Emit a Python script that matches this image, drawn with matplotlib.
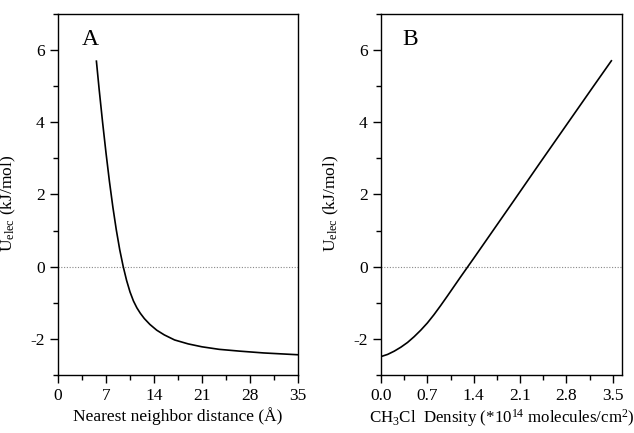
import numpy as np
import matplotlib
matplotlib.use("Agg")
import matplotlib.pyplot as plt
from matplotlib.ticker import MultipleLocator, FormatStrFormatter

plt.rcParams['font.family'] = ['Liberation Serif', 'DejaVu Serif']
plt.rcParams['mathtext.fontset'] = 'custom'
plt.rcParams['mathtext.rm'] = 'Liberation Serif'
plt.rcParams['mathtext.it'] = 'Liberation Serif:italic'
plt.rcParams['axes.unicode_minus'] = False

# panel A: energy vs nearest neighbour distance
dist_a = [5.6, 6.0, 6.5, 7.0, 7.5, 8.0, 8.5, 9.0, 9.5, 10.0, 10.5, 11.0, 11.5, 12.0, 12.6, 13.4,
          14.4, 15.5, 17.0, 19.0, 21.0, 23.5, 26.5, 30.0, 35.0]
u_a = [5.69, 4.91, 4.00, 3.15, 2.36, 1.65, 1.02, 0.47, 0.01, -0.38, -0.70, -0.95, -1.14, -1.29, -1.44, -1.60,
       -1.76, -1.89, -2.03, -2.14, -2.22, -2.29, -2.34, -2.39, -2.44]

# panel B: energy vs CH3Cl density
dens_b = [0.0, 0.1, 0.2, 0.3, 0.4, 0.5, 0.6, 0.7, 0.8, 0.9, 1.0, 1.2, 1.4, 1.7, 2.0, 2.4, 2.8, 3.2, 3.48]
u_b = [-2.49, -2.43, -2.34, -2.23, -2.10, -1.94, -1.76, -1.56, -1.33, -1.08, -0.82, -0.29, 0.23,
       1.02, 1.81, 2.87, 3.92, 4.97, 5.70]

fig = plt.figure(figsize=(6.34, 4.33), dpi=100)
ax_a = fig.add_axes([0.0915, 0.134, 0.3785, 0.834])
ax_b = fig.add_axes([0.601, 0.134, 0.380, 0.834])

for ax in (ax_a, ax_b):
    ax.axhline(0, color='#888888', lw=0.8, ls=(0, (1, 1.5)), zorder=1)
    ax.set_ylim(-3, 7)
    ax.yaxis.set_major_locator(MultipleLocator(2))
    ax.yaxis.set_minor_locator(MultipleLocator(1))
    ax.tick_params(which='both', direction='out', labelsize=12.5, width=1.0)
    ax.tick_params(which='major', length=6)
    ax.tick_params(which='minor', length=3.5)
    for s in ax.spines.values():
        s.set_linewidth(1.0)
    ax.set_ylabel(r'U$_{\rm elec}$ (kJ/mol)', fontsize=12.5)
    ax.yaxis.set_label_coords(-0.165, 0.475)

ax_a.plot(dist_a, u_a, color='black', lw=1.2)
ax_a.set_xlim(0, 35)
ax_a.xaxis.set_major_locator(MultipleLocator(7))
ax_a.xaxis.set_minor_locator(MultipleLocator(3.5))
ax_a.set_xlabel('Nearest neighbor distance (Å)', fontsize=12.5, labelpad=2)
ax_a.text(0.1, 0.93, 'A', transform=ax_a.transAxes, fontsize=17, va='center')

ax_b.plot(dens_b, u_b, color='black', lw=1.2)
ax_b.set_xlim(0, 3.64)
ax_b.xaxis.set_major_locator(MultipleLocator(0.7))
ax_b.xaxis.set_minor_locator(MultipleLocator(0.35))
ax_b.xaxis.set_major_formatter(FormatStrFormatter('%.1f'))
ax_b.set_xlabel(r'CH$_3$Cl  Density (*10$^{14}$ molecules/cm$^2$)', fontsize=12.2, labelpad=2)
ax_b.text(0.09, 0.93, 'B', transform=ax_b.transAxes, fontsize=17, va='center')

fig.savefig('out.png', dpi=100)
